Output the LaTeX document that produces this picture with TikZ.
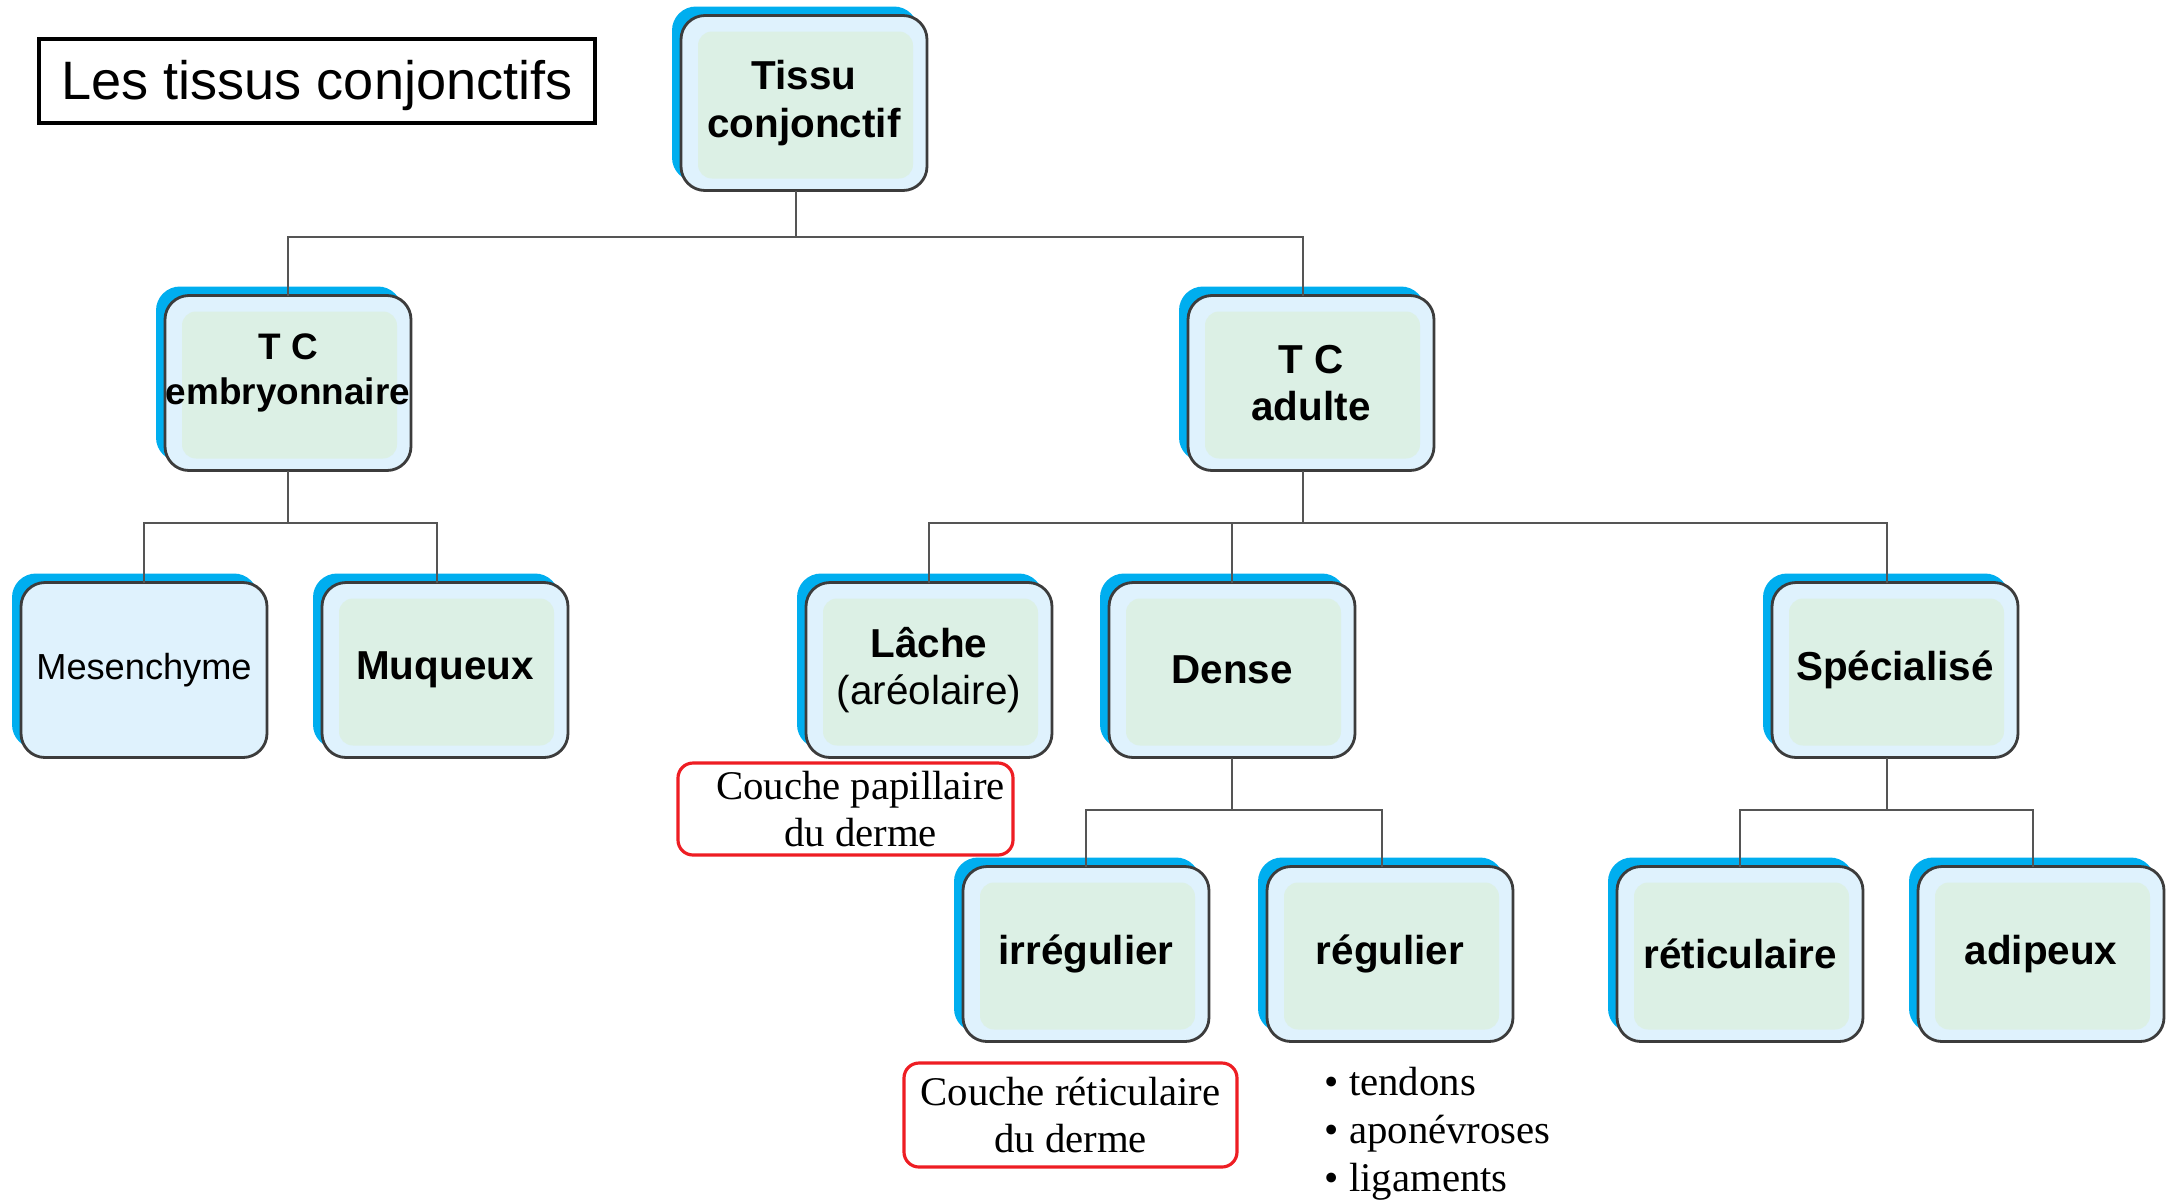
\documentclass[tikz,border=0pt]{standalone}
\usepackage{fontspec}
\setmainfont{Liberation Serif}
\setsansfont{Liberation Sans}
\usetikzlibrary{shadows}
\definecolor{boxblue}{HTML}{DFF2FD}
\definecolor{boxgreen}{HTML}{DCF0E5}
\definecolor{edgeblue}{HTML}{00AEEF}
\definecolor{boxline}{HTML}{3C3C3C}
\definecolor{linkgray}{HTML}{555555}
\definecolor{notered}{HTML}{EE1D23}

\begin{document}
\begin{tikzpicture}[
  tissuebase/.style={rounded corners=0.24cm, draw=boxline, line width=0.8pt, fill=boxblue,
    minimum width=2.46cm, minimum height=1.75cm, inner sep=0pt, outer sep=0pt, align=center,
    font=\sffamily\bfseries\fontsize{11.5}{13.5}\selectfont,
    general shadow={fill=edgeblue, shadow xshift=-0.09cm, shadow yshift=0.09cm}},
  tissue/.style={tissuebase,
    path picture={\fill[boxgreen, rounded corners=0.14cm]
      ([xshift=0.17cm,yshift=-0.16cm]path picture bounding box.north west) rectangle
      ([xshift=-0.14cm,yshift=0.12cm]path picture bounding box.south east);}},
  note/.style={draw=notered, line width=0.9pt, rounded corners=0.15cm, fill=white,
    inner sep=0pt, align=center, font=\fontsize{11.6}{13.4}\selectfont},
  link/.style={draw=linkgray, line width=0.7pt}]
  \useasboundingbox (0,0) rectangle (21.70,-12.03);

  \node[draw, line width=1.1pt, minimum width=5.56cm, minimum height=0.84cm, inner sep=0pt,
        text depth=0.02cm, font=\sffamily\fontsize{15.4}{18}\selectfont] (title) at (3.17,-0.81) {Les tissus conjonctifs};

  % the tree
  \node[tissue] (tissu) at (8.04,-1.03) {Tissu\\conjonctif};
  \node[tissue, text depth=0.28cm, font=\sffamily\bfseries\fontsize{10.5}{13}\selectfont] (emb) at (2.88,-3.83) {T C\\embryonnaire};
  \node[tissue] (adulte) at (13.11,-3.83) {T C\\adulte};
  \node[tissuebase, font=\sffamily\fontsize{10.3}{12}\selectfont] (mes) at (1.44,-6.70) {Mesenchyme};
  \node[tissue] (muq) at (4.45,-6.70) {Muqueux};
  \node[tissue] (lache) at (9.29,-6.70) {Lâche\\{\mdseries (aréolaire)}};
  \node[tissue] (dense) at (12.32,-6.70) {Dense};
  \node[tissue] (spec) at (18.95,-6.70) {Spécialisé};
  \node[tissue] (irreg) at (10.86,-9.54) {irrégulier};
  \node[tissue] (reg) at (13.90,-9.54) {régulier};
  \node[tissue] (retic) at (17.40,-9.54) {réticulaire};
  \node[tissue] (adip) at (20.41,-9.54) {adipeux};

  \draw[link] ([xshift=-0.08cm]tissu.south) -- ++(0,-0.465) coordinate (b1);
  \draw[link] (b1) -| (emb.north);
  \draw[link] (b1) -| ([xshift=-0.08cm]adulte.north);
  \draw[link] (emb.south) -- ++(0,-0.525) coordinate (b2);
  \draw[link] (b2) -| (mes.north);
  \draw[link] (b2) -| ([xshift=-0.08cm]muq.north);
  \draw[link] ([xshift=-0.08cm]adulte.south) -- ++(0,-0.525) coordinate (b3);
  \draw[link] (b3) -| (lache.north);
  \draw[link] (b3) -| (dense.north);
  \draw[link] (b3) -| ([xshift=-0.08cm]spec.north);
  \draw[link] (dense.south) -- ++(0,-0.525) coordinate (b4);
  \draw[link] (b4) -| (irreg.north);
  \draw[link] (b4) -| ([xshift=-0.08cm]reg.north);
  \draw[link] ([xshift=-0.08cm]spec.south) -- ++(0,-0.525) coordinate (b5);
  \draw[link] (b5) -| (retic.north);
  \draw[link] (b5) -| ([xshift=-0.08cm]adip.north);

  % notes
  \node[note, minimum width=3.35cm, minimum height=0.92cm] (papil) at (8.455,-8.09) {\hspace*{0.3cm}Couche papillaire\\\hspace*{0.3cm}du derme};
  \node[note, minimum width=3.33cm, minimum height=1.04cm] (reticnote) at (10.705,-11.15) {Couche réticulaire\\du derme};
  \node[anchor=west, align=left, inner sep=0pt, font=\fontsize{11.6}{13.7}\selectfont] (uses) at (13.24,-11.34)
    {\textbullet\ tendons\\\textbullet\ aponévroses\\\textbullet\ ligaments};
\end{tikzpicture}
\end{document}
